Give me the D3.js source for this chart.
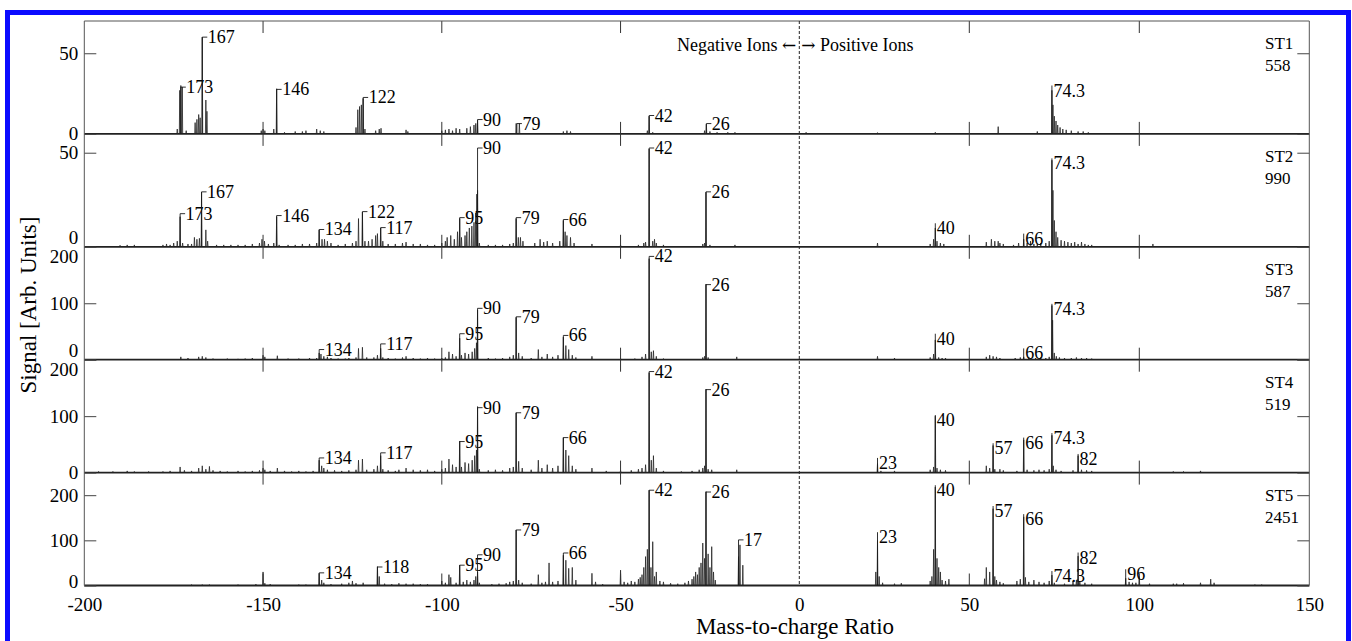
<!DOCTYPE html>
<html>
<head>
<meta charset="utf-8">
<script src="https://cdnjs.cloudflare.com/ajax/libs/d3/7.8.5/d3.min.js"></script>
<style>
  body { margin: 0; background: #fff; }
  svg { display: block; font-family: "Liberation Serif", "Times New Roman", serif; }
</style>
</head>
<body>
<div id="chart"></div>
<script>
// panels, top to bottom
var panelNames = ["ST1", "ST2", "ST3", "ST4", "ST5"];
var panelTotals = ["558", "990", "587", "519", "2451"];
var panelMax = [70, 60, 200, 200, 250];
var panelTicks = [[0, 50], [0, 50], [0, 100, 200], [0, 100, 200], [0, 100, 200]];
var xTicks = [-200, -150, -100, -50, 0, 50, 100, 150];

// peaks: [mass-to-charge, signal]
var st1Peaks = [[-174, 3], [-173.3, 27], [-173, 30], [-172.6, 29], [-171.5, 2], [-169, 7], [-168.5, 9], [-168, 12], [-167.6, 10],
  [-167, 60], [-166, 21], [-165.7, 14], [-150.5, 2], [-150, 3], [-149.5, 2], [-147, 3], [-146.2, 28], [-144, 1], [-141, 1.5],
  [-139, 1.5], [-138, 2], [-135, 3], [-134, 2], [-133, 1.5], [-124, 4], [-123.5, 15], [-123, 17], [-122.5, 18], [-122, 22],
  [-121.5, 3], [-118.5, 2], [-117.5, 3], [-117, 3.5], [-110, 2.5], [-109.5, 1.5], [-100, 2], [-99, 2.5], [-98, 3], [-97, 2],
  [-96, 3.5], [-95, 3], [-93, 3.5], [-92, 4.5], [-91, 5.5], [-90.5, 6.5], [-90, 8.5], [-79.2, 6.5], [-78.3, 6.5], [-66, 1.5],
  [-65, 2], [-64, 1.5], [-42.5, 2], [-42, 11], [-41, 1], [-26.5, 2], [-26, 6], [-25, 1.5], [-23, 1], [-20, 1], [-18, 1],
  [2, 1], [23, 0.8], [40, 1], [58.5, 4.5], [70, 1.5], [74.3, 27], [74.6, 18], [75, 11], [75.5, 8], [76, 5.5], [76.7, 4],
  [77.5, 3], [78.5, 2.5], [80, 2], [82, 1.5], [83.5, 1.5], [85, 1]];

var st2Peaks = [[-190, 0.8], [-188, 1], [-186, 1], [-178, 1], [-177, 1.5], [-176, 1], [-175, 2], [-174, 3], [-173.2, 16],
  [-172.5, 2], [-171, 1.5], [-170, 1.5], [-169.2, 5], [-168.5, 4], [-167.8, 4.5], [-167.2, 29], [-166, 9], [-165.5, 3],
  [-163, 1], [-161, 1], [-159, 1], [-157, 1], [-155, 1], [-153, 1.5], [-151, 2], [-150.3, 4], [-149.6, 3], [-148.5, 1.5],
  [-147, 2], [-146.2, 16], [-145.5, 1], [-143, 1], [-141, 1], [-139, 1.5], [-137, 1.5], [-135, 2], [-134.3, 9], [-133.5, 4],
  [-132.8, 4], [-132, 3], [-131, 2], [-129, 1], [-127, 1.5], [-125, 2], [-124, 3], [-123.3, 15], [-122.2, 18.5], [-121.5, 3],
  [-120.5, 3], [-119.5, 4], [-118.5, 6], [-118, 7], [-117.1, 10], [-116.5, 3], [-115, 1.5], [-113, 1.5], [-111, 2], [-110, 2.5],
  [-108, 1.5], [-106, 1.5], [-104, 1], [-102, 1], [-100, 2], [-99, 3], [-98.5, 5], [-97.5, 6], [-96.5, 4], [-95.6, 8],
  [-95, 15], [-94.5, 5], [-93.5, 6], [-93, 8], [-92.3, 10], [-91.6, 11], [-91, 13], [-90.5, 18], [-90.2, 28], [-90, 30],
  [-89.5, 2], [-87, 1], [-85, 1], [-83, 1], [-81, 1.5], [-80, 2], [-79.2, 15], [-78.6, 5], [-78, 5], [-77.3, 3], [-74, 2],
  [-72.5, 4], [-71.5, 2.5], [-70.5, 3], [-69, 2], [-67, 3], [-66, 14], [-65.5, 8], [-65, 6], [-64, 5], [-63, 2], [-58, 1.5],
  [-50, 1], [-45, 1], [-43.5, 2], [-43, 2.5], [-42, 52], [-41, 3], [-40.5, 4], [-40, 2], [-38, 1], [-27, 1.5], [-26.5, 2],
  [-26.1, 29], [-25, 1], [-18, 1],
  [23, 2], [38.5, 1.5], [39.5, 4], [40, 10], [40.5, 3], [41.5, 2], [42.5, 1.5], [55, 2.5], [56.5, 4], [57.5, 3], [58.5, 3],
  [59, 2], [60, 1.5], [63, 1], [64.5, 2], [66, 4], [67, 2], [68, 3], [69, 1.5], [70, 1.5], [71, 2], [72.5, 2], [73.5, 3],
  [74.3, 46], [74.6, 30], [75, 14], [75.5, 8], [76, 5], [77, 3.5], [78, 3], [79, 2.5], [80, 2], [81, 2.5], [82, 1.5],
  [83, 2.5], [84, 1.5], [85, 1], [86, 1], [104, 1.5]];

var st3Peaks = [[-173, 5], [-171, 3], [-168, 5], [-167, 6], [-166, 4], [-164, 2], [-160, 2], [-157, 1.5], [-155, 2], [-153, 3],
  [-150, 8], [-149.5, 5], [-146, 7], [-143, 2], [-140, 2], [-137, 3], [-135, 3], [-134.3, 12], [-133.8, 10], [-133, 6],
  [-132, 5], [-131, 3], [-129, 2], [-127, 2], [-126, 3], [-124, 4], [-123.3, 20], [-122.2, 22], [-121, 4], [-119, 4],
  [-118, 8], [-117.1, 20], [-116.5, 4], [-115, 3], [-113, 2], [-111, 4], [-110, 6], [-108, 3], [-106, 2], [-104, 3],
  [-102, 2], [-100, 3], [-99, 4], [-98, 14], [-97, 10], [-96, 6], [-95, 38], [-94.5, 8], [-93.5, 12], [-92.5, 10],
  [-91.5, 14], [-90.8, 20], [-90.3, 30], [-90, 88], [-87, 3], [-85, 2], [-83, 3], [-81, 5], [-80, 8], [-79.2, 75],
  [-78.5, 12], [-77.5, 6], [-75, 3], [-73, 18], [-72, 5], [-70.5, 10], [-69, 5], [-67.5, 8], [-66, 40], [-65.3, 25],
  [-64.5, 18], [-63.5, 8], [-62.5, 4], [-58, 6], [-50, 2], [-46, 2], [-44, 5], [-43, 10], [-42, 179], [-41.4, 14],
  [-40.8, 16], [-40, 6], [-38, 2], [-30, 1], [-27, 4], [-26.5, 6], [-26.1, 134], [-25.5, 4], [-17.5, 5],
  [23, 6], [28, 3], [38.5, 4], [39.5, 10], [40, 35], [41, 4], [42, 3], [43, 3], [55, 5], [56, 8], [57, 6], [58, 5], [59, 3],
  [63.5, 3], [65, 4], [66, 5], [67.5, 5], [69.5, 3], [71, 4], [72.5, 3], [73.5, 5], [74.3, 96], [74.5, 70], [75, 12],
  [75.6, 6], [76.5, 4], [78, 3], [80, 3], [81.5, 4], [83, 3], [84.5, 3], [86, 2]];

var st4Peaks = [[-196, 2], [-192, 2], [-188, 3], [-186, 2], [-182, 2], [-178, 2], [-176, 3], [-173.2, 10], [-172, 4], [-170, 3],
  [-168, 8], [-167, 12], [-166, 6], [-165, 11], [-164, 4], [-162, 3], [-160, 2], [-157, 3], [-155, 2], [-153, 3], [-151, 4],
  [-150, 8], [-149.5, 5], [-148, 3], [-146, 8], [-144, 3], [-142, 2], [-140, 3], [-138, 2], [-136, 3], [-134.3, 22],
  [-133.6, 12], [-133, 8], [-132, 5], [-130, 4], [-128, 3], [-126, 4], [-124, 5], [-123.3, 22], [-122.2, 24], [-121, 5],
  [-119, 6], [-118, 12], [-117.1, 30], [-116.5, 6], [-115, 4], [-113, 3], [-112, 5], [-110, 8], [-108, 5], [-106, 4],
  [-104, 5], [-102, 3], [-100, 6], [-99, 8], [-98, 24], [-97, 14], [-96, 10], [-95, 56], [-94.5, 10], [-93.5, 18],
  [-92.5, 16], [-91.5, 22], [-90.8, 30], [-90.3, 40], [-90, 117], [-89.5, 6], [-87, 4], [-85, 5], [-83, 4], [-81, 8],
  [-80, 10], [-79.2, 106], [-78.5, 20], [-77.5, 8], [-75, 5], [-73, 22], [-72, 8], [-70.5, 14], [-69, 8], [-67.5, 12],
  [-66, 62], [-65.3, 40], [-64.5, 30], [-63.5, 12], [-62.5, 6], [-58, 8], [-54, 3], [-50, 4], [-47, 4], [-45, 6], [-44, 8],
  [-43, 14], [-42, 177], [-41.4, 22], [-40.8, 30], [-40, 8], [-38, 3], [-33, 2], [-30, 3], [-28, 5], [-27, 8], [-26.5, 12],
  [-26.1, 148], [-25.5, 6], [-24.5, 5], [-17.5, 5],
  [23, 16], [24, 3], [28, 3], [38.5, 5], [39.5, 10], [40, 100], [40.5, 8], [41.5, 5], [43, 4], [55, 12], [56, 8], [57, 48],
  [57.5, 6], [59, 6], [60, 4], [64, 3], [66, 58], [67, 5], [69, 4], [70.5, 5], [72, 4], [73.5, 6], [74.3, 66], [74.7, 12],
  [75.5, 5], [77, 3], [80.5, 4], [82, 30], [83, 5], [84.5, 4], [86, 3], [110, 2], [113, 2], [118, 3]];

var st5Peaks = [[-185, 1], [-170, 2], [-167, 2], [-165, 2], [-157, 2], [-152, 3], [-150, 30], [-149.5, 5], [-148, 3], [-140, 2],
  [-138, 2], [-134.3, 27], [-133.6, 12], [-133, 6], [-131, 3], [-128, 4], [-126, 6], [-125, 10], [-124, 5], [-122, 6],
  [-118, 42], [-117.5, 20], [-116, 4], [-114, 3], [-112, 5], [-110, 4], [-108, 4], [-106, 3], [-104, 3], [-100, 10], [-99, 6],
  [-98, 24], [-97.5, 18], [-96, 6], [-95, 45], [-94, 8], [-93, 12], [-92, 8], [-91, 12], [-90.5, 20], [-90, 30], [-89.5, 6],
  [-86, 3], [-84, 4], [-82, 5], [-81, 8], [-80, 10], [-79.2, 123], [-78.5, 12], [-77.5, 6], [-75, 4], [-73, 24], [-72, 6],
  [-71, 8], [-70, 50], [-69, 8], [-67.5, 10], [-66, 67], [-65.3, 56], [-64.5, 38], [-63.5, 40], [-62.5, 12], [-58, 27],
  [-57, 8], [-55, 3], [-50, 34], [-49, 8], [-48, 6], [-47, 10], [-46, 8], [-45, 14], [-44.5, 18], [-44, 24], [-43.5, 40],
  [-43, 64], [-42.5, 80], [-42, 211], [-41.5, 40], [-41, 97], [-40.5, 20], [-40, 30], [-39, 10], [-38, 8], [-36, 5],
  [-34, 4], [-32, 6], [-31, 10], [-30, 14], [-29.5, 20], [-29, 30], [-28.5, 24], [-28, 40], [-27.5, 50], [-27, 94],
  [-26.5, 60], [-26.1, 208], [-25.5, 70], [-25, 40], [-24.5, 86], [-24, 30], [-23.5, 12], [-17, 64], [-16.6, 90], [-15.8, 45],
  [22.5, 30], [23, 100], [23.5, 20], [24.5, 6], [28, 4], [30, 5], [38.5, 10], [39, 20], [39.5, 80], [40, 218], [40.5, 60],
  [41, 40], [41.5, 30], [42, 12], [43, 10], [44, 14], [54.5, 15], [55, 40], [56, 30], [57, 170], [57.5, 20], [58, 12],
  [59, 8], [60, 5], [64, 10], [65, 14], [66, 152], [66.5, 18], [67.5, 8], [69, 12], [70.5, 8], [72, 6], [73.5, 10],
  [74.3, 23], [75, 6], [78, 4], [80.5, 10], [81.5, 12], [82, 65], [82.5, 10], [84, 6], [86, 4], [96, 16], [97, 8], [98, 6],
  [99, 6], [100, 20], [103, 4], [110, 4], [111, 4], [113, 5], [118, 6], [121, 14], [122, 6], [134, 2], [136, 2]];

// peak labels: [mass-to-charge, label height, text]
var st1Labels = [[-173, 29, "173"], [-167, 60, "167"], [-146.2, 27.6, "146"], [-122, 22.6, "122"], [-90, 8.9, "90"],
  [-79, 6.4, "79"], [-42, 11.4, "42"], [-26, 6.4, "26"], [74.3, 30, "74.3"]];
var st2Labels = [[-173.2, 17.6, "173"], [-167.2, 29.2, "167"], [-146.2, 16.6, "146"], [-134.3, 9.2, "134"], [-122.2, 18.7, "122"],
  [-117.1, 10.2, "117"], [-95, 15.5, "95"], [-90, 52.5, "90"], [-79.2, 15.5, "79"], [-66, 14.5, "66"], [-42, 52.5, "42"],
  [-26.1, 29.2, "26"], [40, 12.5, "40"], [66, 7, "66"], [74.3, 47, "74.3"]];
var st3Labels = [[-134.3, 18, "134"], [-117.1, 28, "117"], [-95, 46, "95"], [-90, 91, "90"], [-79.2, 76, "79"], [-66, 43, "66"],
  [-42, 183, "42"], [-26.1, 133, "26"], [40, 46, "40"], [66, 20, "66"], [74.3, 99, "74.3"]];
var st4Labels = [[-134.3, 26, "134"], [-117.1, 35, "117"], [-95, 55, "95"], [-90, 115, "90"], [-79.2, 106, "79"], [-66, 62, "66"],
  [-42, 179, "42"], [-26.1, 147, "26"], [23, 26, "23"], [40, 102, "40"], [57, 52, "57"], [66, 62, "66"], [74.3, 70, "74.3"],
  [82, 33, "82"]];
var st5Labels = [[-134.3, 28, "134"], [-118, 41, "118"], [-95, 45, "95"], [-90, 68, "90"], [-79.2, 123, "79"], [-66, 72, "66"],
  [-42, 211, "42"], [-26.1, 207, "26"], [-17, 101, "17"], [23, 118, "23"], [40, 222, "40"], [57, 176, "57"], [66, 158, "66"],
  [74.3, 32, "74.3"], [82, 73, "82"], [96, 36, "96"]];

var peaks = [st1Peaks, st2Peaks, st3Peaks, st4Peaks, st5Peaks];
var labels = [st1Labels, st2Labels, st3Labels, st4Labels, st5Labels];

var width = 1352;
var height = 641;
var plotLeft = 84.3, plotRight = 1309.3, zeroX = 799.3;
var plotTop = 21, plotBottom = 585.5;
var panelH = (plotBottom - plotTop) / panelNames.length;
var serif = "Liberation Serif, Times New Roman, serif";

// the two halves use different units per pixel
var x = d3.scaleLinear().domain([-200, 0, 150]).range([plotLeft, zeroX, plotRight]);

var svg = d3.select("#chart")
    .append("svg")
    .attr("width", width)
    .attr("height", height)
    .style("background-color", "#fff");

// blue frame round the figure
svg.append("rect")
    .attr("x", 7.5).attr("y", 12.5)
    .attr("width", 1341).attr("height", 700)
    .attr("fill", "none")
    .attr("stroke", "#0b0bff")
    .attr("stroke-width", 5);

panelNames.forEach(function(name, i) {
    var y0 = plotTop + i * panelH;
    var y1 = y0 + panelH;
    var y = d3.scaleLinear().domain([0, panelMax[i]]).range([y1, y0]);
    var g = svg.append("g");
    var last = i === panelNames.length - 1;

    var spike = d3.line()
        .x(function(d) { return x(d[0]); })
        .y(function(d) { return y(d[1]); });

    // spectrum
    g.selectAll("path.peak")
        .data(peaks[i])
        .enter().append("path")
        .attr("class", "peak")
        .attr("d", function(d) { return spike([[d[0] - 0.12, 0], [d[0], d[1]], [d[0] + 0.12, 0]]); })
        .attr("fill", "none")
        .attr("stroke", "#262626")
        .attr("stroke-width", 0.8);

    // baseline
    g.append("line")
        .attr("x1", plotLeft).attr("x2", plotRight)
        .attr("y1", y(0)).attr("y2", y(0))
        .attr("stroke", "#222")
        .attr("stroke-width", 1.8);

    // left axis, ticks inward
    var nextTopTick = !last && d3.max(panelTicks[i + 1]) === panelMax[i + 1];
    var ax = g.append("g")
        .attr("transform", "translate(" + plotLeft + ",0)")
        .call(d3.axisLeft(y).tickValues(panelTicks[i]).tickSize(-12).tickPadding(6));
    ax.select(".domain").remove();
    ax.selectAll("line").attr("stroke", "#444");
    ax.selectAll("text")
        .attr("font-size", 19)
        .attr("font-family", serif)
        .attr("fill", "#000")
        .attr("dy", function(t) {
            if (t === panelMax[i]) return "0.85em";
            if (t === 0 && nextTopTick) return "-0.15em";
            if (t === 0 && last) return "0.12em";
            return "0.32em";
        });

    // right axis, ticks only
    var axr = g.append("g")
        .attr("transform", "translate(" + plotRight + ",0)")
        .call(d3.axisRight(y).tickValues(panelTicks[i]).tickSize(-12).tickFormat(""));
    axr.select(".domain").remove();
    axr.selectAll("line").attr("stroke", "#444");

    // x ticks at the panel's top and bottom, pointing inward
    [y0, y1].forEach(function(yb, k) {
        g.selectAll(null)
            .data(xTicks.filter(function(v) { return v > -200 && v < 150 && v !== 0; }))
            .enter().append("line")
            .attr("x1", function(v) { return x(v); })
            .attr("x2", function(v) { return x(v); })
            .attr("y1", yb)
            .attr("y2", k === 0 ? yb + 12 : yb - 12)
            .attr("stroke", "#333")
            .attr("stroke-width", 1);
    });

    // peak labels
    var lab = g.selectAll("g.lab")
        .data(labels[i])
        .enter().append("g")
        .attr("class", "lab");
    lab.append("line")
        .attr("x1", function(d) { return x(d[0]); })
        .attr("x2", function(d) { return x(d[0]); })
        .attr("y1", y(0))
        .attr("y2", function(d) { return y(d[1]); })
        .attr("stroke", "#1a1a1a")
        .attr("stroke-width", 0.9);
    lab.filter(function(d) { return d[0] < 0; })
        .append("line")
        .attr("x1", function(d) { return x(d[0]); })
        .attr("x2", function(d) { return x(d[0]) + 5; })
        .attr("y1", function(d) { return y(d[1]); })
        .attr("y2", function(d) { return y(d[1]); })
        .attr("stroke", "#1a1a1a")
        .attr("stroke-width", 0.9);
    lab.append("text")
        .attr("x", function(d) { return d[0] < 0 ? x(d[0]) + 5.5 : x(d[0]) + 1.5; })
        .attr("y", function(d) { return d[0] < 0 ? y(d[1]) + 6 : y(d[1]) + 11; })
        .attr("font-size", 18)
        .text(function(d) { return d[2]; });

    // station name and total
    g.append("text").attr("x", 1265).attr("y", y0 + 28).attr("font-size", 17).text(name);
    g.append("text").attr("x", 1265).attr("y", y0 + 50).attr("font-size", 17).text(panelTotals[i]);
});

// frame
svg.append("line").attr("x1", plotLeft).attr("x2", plotLeft).attr("y1", plotTop).attr("y2", plotBottom)
    .attr("stroke", "#555").attr("stroke-width", 1);
svg.append("line").attr("x1", plotRight).attr("x2", plotRight).attr("y1", plotTop).attr("y2", plotBottom)
    .attr("stroke", "#555").attr("stroke-width", 1);
svg.append("line").attr("x1", plotLeft).attr("x2", plotRight).attr("y1", plotTop).attr("y2", plotTop)
    .attr("stroke", "#555").attr("stroke-width", 1);

// dashed divider at zero
svg.append("line")
    .attr("x1", x(0)).attr("x2", x(0))
    .attr("y1", plotTop).attr("y2", plotBottom)
    .attr("stroke", "#222")
    .attr("stroke-width", 1)
    .attr("stroke-dasharray", "3,2");

var neg = svg.append("text")
    .attr("x", x(0) - 3).attr("y", 51)
    .attr("text-anchor", "end")
    .attr("font-size", 18);
neg.append("tspan").text("Negative Ions ");
neg.append("tspan").attr("font-family", "DejaVu Serif").attr("font-size", 17).text("\u2190");
var pos = svg.append("text")
    .attr("x", x(0) + 2).attr("y", 51)
    .attr("font-size", 18);
pos.append("tspan").attr("font-family", "DejaVu Serif").attr("font-size", 17).text("\u2192");
pos.append("tspan").text(" Positive Ions");

// bottom axis labels
var bx = svg.append("g")
    .attr("transform", "translate(0," + plotBottom + ")")
    .call(d3.axisBottom(x).tickValues(xTicks).tickSize(0).tickPadding(12)
        .tickFormat(function(d) { return String(d); }));
bx.select(".domain").remove();
bx.selectAll("text")
    .attr("font-size", 19)
    .attr("font-family", serif)
    .attr("fill", "#000");

// axis titles
svg.append("text")
    .attr("x", 795).attr("y", 634)
    .attr("text-anchor", "middle")
    .attr("font-size", 23)
    .text("Mass-to-charge Ratio");
svg.append("text")
    .attr("transform", "translate(36,305) rotate(-90)")
    .attr("text-anchor", "middle")
    .attr("font-size", 23)
    .text("Signal [Arb. Units]");
</script>
</body>
</html>
